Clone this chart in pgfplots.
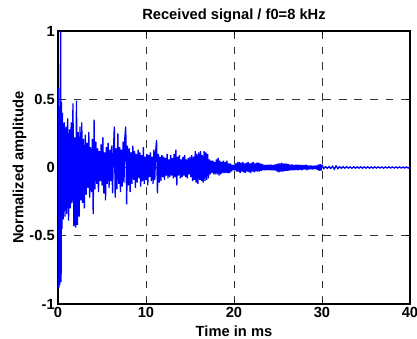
\documentclass[border=0pt]{standalone}
\usepackage{pgfplots}
\pgfplotsset{compat=1.18}
\usepackage{fontspec}
\setmainfont{Liberation Sans}
\newcommand{\lblfont}{\fontsize{14.7bp}{17bp}\selectfont\bfseries}
\begin{document}
\begin{tikzpicture}
\path[use as bounding box] (-58bp,-35bp) rectangle (359bp,304bp);
\begin{axis}[
  at={(0,0)}, anchor=south west,
  scale only axis, width=352bp, height=273bp,
  xmin=0, xmax=40, ymin=-1, ymax=1,
  xtick={0,10,20,30,40}, xticklabels={0,10,20,30,40},
  ytick={-1,-0.5,0,0.5,1}, yticklabels={-1,-0.5,0,0.5,1},
  grid=major,
  major grid style={dash pattern=on 7.8bp off 7.8bp, line width=0.9bp, color=black!80},
  axis line style={line width=1.6bp, black},
  tick style={line width=0.8bp, black},
  major tick length=4bp,
  tick align=inside,
  ticklabel style={font=\lblfont},
  xticklabel style={anchor=base, yshift=-13.3bp},
  yticklabel style={anchor=east, inner sep=0pt, xshift=-3bp},
  title={Received signal / f0=8 kHz},
  title style={at={(axis description cs:0.5,1)}, anchor=base, yshift=5.5bp, font=\lblfont},
  xlabel={Time in ms},
  xlabel style={at={(axis description cs:0.5,0)}, anchor=base, yshift=-32.3bp, font=\lblfont},
  ylabel={Normalized amplitude},
  ylabel style={at={(axis description cs:0,0.5)}, anchor=base, yshift=34.7bp, font=\lblfont},
]
\addplot[color=blue, line width=1.3bp, mark=none, line join=miter, miter limit=3] coordinates {
(0,0) (0.05,0.58) (0.1,-0.88) (0.15,0.45) (0.2,-0.86) (0.25,0.55) (0.3,1.0) (0.35,-0.84) (0.4,0.48) (0.45,-0.45) (0.5,0.40)
(0.6,-0.38) (0.7,0.33) (0.8,-0.36) (0.9,0.30) (1.0,-0.34) (1.1,0.36) (1.2,-0.39) (1.3,0.28) (1.4,-0.30) (1.5,0.33)
(1.6,-0.26) (1.7,0.47) (1.8,-0.43) (1.9,0.22) (2.0,-0.44) (2.1,0.49) (2.2,-0.42) (2.3,0.26) (2.4,-0.36) (2.5,0.30)
(2.6,-0.24) (2.7,0.33) (2.8,-0.26) (2.9,0.21) (3.0,-0.30)
(3.1,0.24) (3.2,-0.20) (3.3,0.18) (3.4,-0.15) (3.5,0.26) (3.6,-0.22) (3.7,0.15) (3.8,-0.18) (3.9,0.21) (4.0,-0.34)
(4.1,0.35) (4.2,-0.16) (4.3,0.19) (4.4,-0.12) (4.5,0.14) (4.6,-0.18) (4.7,0.12) (4.8,-0.10) (4.9,0.17) (5.0,-0.13)
(5.1,0.22) (5.2,-0.19) (5.3,0.11) (5.4,-0.24) (5.5,0.15) (5.6,-0.12) (5.7,0.18) (5.8,-0.15) (5.9,0.13) (6.0,-0.10)
(6.1,0.16) (6.2,-0.19) (6.3,0.12) (6.4,0.30) (6.5,-0.22) (6.6,0.14) (6.7,-0.16) (6.8,0.25) (6.9,-0.12) (7.0,0.15)
(7.1,-0.18) (7.2,0.13) (7.3,-0.14) (7.4,0.19) (7.5,-0.11) (7.6,0.22) (7.7,0.30) (7.8,-0.27) (7.9,0.16) (8.0,-0.13)
(8.1,0.14) (8.2,-0.18) (8.3,0.11) (8.4,-0.12) (8.5,0.16) (8.6,-0.09) (8.7,0.12) (8.8,-0.15) (8.9,0.10) (9.0,-0.11)
(9.1,0.13) (9.2,-0.08) (9.3,0.11) (9.4,-0.14) (9.5,0.09) (9.6,-0.10) (9.7,0.15) (9.8,-0.12) (9.9,0.08) (10.0,-0.09)
(10.1,0.10) (10.2,-0.13) (10.3,0.09) (10.4,-0.07) (10.5,0.11) (10.6,-0.10) (10.7,0.08) (10.8,-0.12) (10.9,0.13) (11.0,-0.09)
(11.1,0.12) (11.2,0.20) (11.3,-0.19) (11.4,0.10) (11.5,-0.11) (11.6,0.08) (11.7,-0.10) (11.8,0.09) (11.9,-0.07) (12.0,0.08)
(12.1,-0.09) (12.2,0.07) (12.3,-0.06) (12.4,0.10) (12.5,-0.08) (12.6,0.06) (12.7,-0.07) (12.8,0.09) (12.9,-0.06) (13.0,0.07)
(13.1,-0.08) (13.2,0.10) (13.3,-0.07) (13.4,0.13) (13.5,-0.13) (13.6,0.08) (13.7,-0.06) (13.8,0.09) (13.9,-0.08) (14.0,0.06)
(14.1,-0.07) (14.2,0.08) (14.3,-0.06) (14.4,0.09) (14.5,-0.07) (14.6,0.06) (14.7,-0.08) (14.8,0.07) (14.9,-0.05) (15.0,0.08)
(15.1,-0.07) (15.2,0.09) (15.3,-0.10) (15.4,0.08) (15.5,-0.09) (15.6,0.12) (15.7,-0.11) (15.8,0.10) (15.9,-0.12) (16.0,0.11)
(16.1,-0.09) (16.2,0.12) (16.3,-0.10) (16.4,0.09) (16.5,-0.11) (16.6,0.12) (16.7,-0.10) (16.8,0.11) (16.9,-0.09) (17.0,0.10)
(17.1,-0.08) (17.2,0.06) (17.3,-0.05) (17.4,0.05) (17.5,-0.04) (17.6,0.05) (17.7,-0.05) (17.8,0.04) (17.9,-0.05) (18.0,0.06)
(18.1,-0.05) (18.2,0.07) (18.3,-0.06) (18.4,0.05) (18.5,-0.05) (18.6,0.04) (18.7,-0.04) (18.8,0.05) (18.9,-0.04) (19.0,0.04)
(19.1,-0.04) (19.2,0.05) (19.3,-0.04) (19.4,0.03) (19.5,-0.04) (19.6,0.03) (19.7,-0.03) (19.8,0.02) (19.9,-0.02) (20.0,0.02)
(20.1,-0.02) (20.2,0.03) (20.3,-0.03) (20.4,0.04) (20.5,-0.03) (20.6,0.04) (20.7,-0.04) (20.8,0.035) (20.9,-0.03) (21.0,0.04)
(21.1,-0.035) (21.2,0.03) (21.3,-0.04) (21.4,0.035) (21.5,-0.03) (21.6,0.04) (21.7,-0.035) (21.8,0.03) (21.9,-0.04) (22.0,0.035)
(22.1,-0.03) (22.2,0.04) (22.3,-0.035) (22.4,0.03) (22.5,-0.03) (22.6,0.035) (22.7,-0.03) (22.8,0.035) (22.9,-0.03) (23.0,0.03)
(23.1,-0.025) (23.2,0.025) (23.3,-0.02) (23.4,0.02) (23.5,-0.02) (23.6,0.018) (23.7,-0.02) (23.8,0.02) (23.9,-0.018) (24.0,0.02)
(24.1,-0.02) (24.2,0.022) (24.3,-0.02) (24.4,0.018) (24.5,-0.02) (24.6,0.02) (24.7,-0.022) (24.8,0.025) (24.9,-0.03) (25.0,0.03)
(25.1,-0.035) (25.2,0.03) (25.3,-0.03) (25.4,0.035) (25.5,-0.03) (25.6,0.03) (25.7,-0.028) (25.8,0.03) (25.9,-0.025) (26.0,0.028)
(26.1,-0.025) (26.2,0.025) (26.3,-0.022) (26.4,0.02) (26.5,-0.02) (26.6,0.022) (26.7,-0.02) (26.8,0.018) (26.9,-0.02) (27.0,0.02)
(27.1,-0.018) (27.2,0.02) (27.3,-0.02) (27.4,0.018) (27.5,-0.016) (27.6,0.018) (27.7,-0.02) (27.8,0.016) (27.9,-0.015) (28.0,0.016)
(28.1,-0.015) (28.2,0.02) (28.3,-0.02) (28.4,0.015) (28.5,-0.014) (28.6,0.015) (28.7,-0.013) (28.8,0.014) (28.9,-0.015) (29.0,0.013)
(29.1,-0.012) (29.2,0.014) (29.3,-0.013) (29.4,0.015) (29.5,-0.018) (29.6,0.022) (29.7,-0.025) (29.8,0.025) (29.9,-0.022) (30.0,0.02)
(30.2,-0.008) (30.4,0.006) (30.6,-0.006) (30.8,0.007) (31.0,-0.007) (31.2,0.009) (31.4,-0.012) (31.6,0.012) (31.8,-0.008) (32.0,0.006)
(32.2,-0.006) (32.4,0.006) (32.6,-0.005) (32.8,0.006) (33.0,-0.005) (33.2,0.005) (33.4,-0.006) (33.6,0.005) (33.8,-0.005) (34.0,0.005)
(34.2,-0.005) (34.4,0.005) (34.6,-0.005) (34.8,0.005) (35.0,-0.005) (35.2,0.005) (35.4,-0.005) (35.6,0.004) (35.8,-0.005) (36.0,0.005)
(36.2,-0.004) (36.4,0.005) (36.6,-0.004) (36.8,0.004) (37.0,-0.005) (37.2,0.004) (37.4,-0.004) (37.6,0.005) (37.8,-0.004) (38.0,0.004)
(38.2,-0.004) (38.4,0.004) (38.6,-0.004) (38.8,0.004) (39.0,-0.004) (39.2,0.004) (39.4,-0.004) (39.6,0.004) (39.8,-0.004) (40.0,0.003)
};
\end{axis}
\end{tikzpicture}
\end{document}
